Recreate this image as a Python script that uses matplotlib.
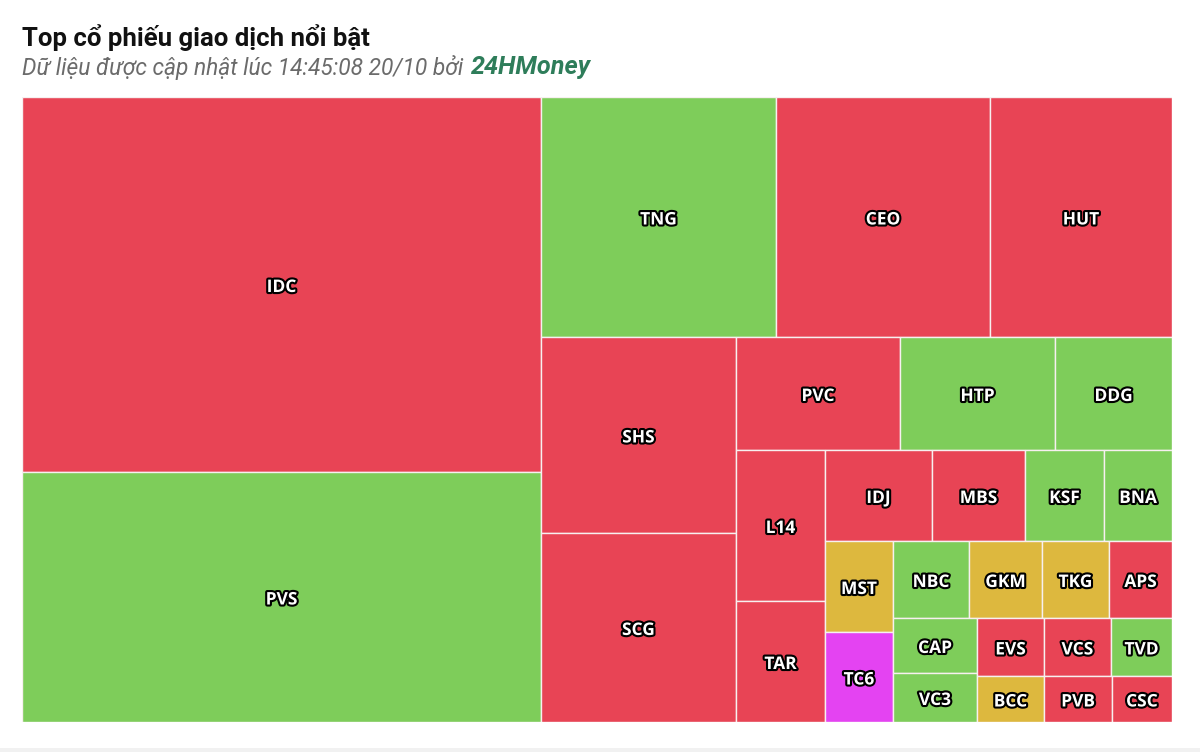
import matplotlib
matplotlib.use("Agg")
import matplotlib.pyplot as plt
from matplotlib.patches import Rectangle
import matplotlib.patheffects as pe
from matplotlib.transforms import offset_copy

# ---- data (estimated relative traded value, in layout order) ----
tickers = ["IDC", "PVS", "TNG", "CEO", "HUT", "SHS", "SCG", "PVC", "HTP", "DDG",
           "L14", "TAR", "IDJ", "MBS", "KSF", "BNA", "MST", "TC6", "NBC", "GKM",
           "TKG", "APS", "CAP", "VC3", "EVS", "VCS", "TVD", "BCC", "PVB", "CSC"]
values = [19463, 12975, 5640, 5136, 4368, 3822, 3686, 1853, 1752, 1322,
          1344, 1077, 974, 846, 719, 619, 619, 612, 585, 562,
          516, 485, 462, 412, 389, 389, 354, 308, 313, 276]
status = ["down", "up", "up", "down", "down", "down", "down", "down", "up", "up",
          "down", "down", "down", "down", "up", "up", "ref", "ceil", "up", "ref",
          "ref", "down", "up", "up", "down", "down", "up", "ref", "down", "down"]

title = "Top cổ phiếu giao dịch nổi bật"
subtitle = "Dữ liệu được cập nhật lúc 14:45:08 20/10 bởi "
brand = "24HMoney"

colors = {"down": "#E84455", "up": "#7ECD5A", "ref": "#DDB83E", "ceil": "#E443F2"}


def squarified(vals, x0, y0, W, H):
    """Port of the Highcharts 'squarified' (alternating low aspect ratio) layout."""
    tot = float(sum(vals))
    rects = []
    g = dict(height=H, width=W, direction=0, total=0.0, nW=0.0, lW=0.0,
             nH=0.0, lH=0.0, el=[], lR=float("nan"), nR=float("nan"))
    plot = dict(x=x0, y=y0)
    nan = float("nan")

    def ar(w, h):
        return max(w / h, h / w)

    def add(el):
        prev = g["el"][-1] if g["el"] else None
        g["total"] += el
        if g["direction"] == 0:
            g["lW"] = g["nW"]
            g["nW"] = g["total"] / g["height"]
            if prev is None:
                g["lR"] = g["nR"] = nan
            else:
                g["lR"] = ar(g["lW"], prev / g["lW"])
                g["nR"] = ar(g["nW"], prev / g["nW"])
        else:
            g["lH"] = g["nH"]
            g["nH"] = g["total"] / g["width"]
            if prev is None:
                g["lR"] = g["nR"] = nan
            else:
                g["lR"] = ar(prev / g["lH"], g["lH"])
                g["nR"] = ar(prev / g["nH"], g["nH"])
        g["el"].append(el)

    def calc(last):
        gW, gH = g["lW"], g["lH"]
        if last:
            gW, gH = g["nW"], g["nH"]
        els = g["el"]
        end = len(els) - 1
        keep = None if last else els[end]
        for i, p in enumerate(els):
            if last or i < end:
                if g["direction"] == 0:
                    pw = gW
                    ph = p / pw
                else:
                    ph = gH
                    pw = p / ph
                rects.append((plot["x"], plot["y"], pw, ph))
                if g["direction"] == 0:
                    plot["y"] += ph
                else:
                    plot["x"] += pw
        g["nW"] = 0.0
        g["lW"] = 0.0
        g["el"] = []
        g["total"] = 0.0
        if g["direction"] == 0:
            g["width"] -= gW
        else:
            g["height"] -= gH
        plot["y"] = y0 + (H - g["height"])
        plot["x"] = x0 + (W - g["width"])
        g["direction"] = 1 - g["direction"]
        if not last:
            add(keep)

    n = len(vals)
    for i, v in enumerate(vals):
        add(W * H * v / tot)
        if g["nR"] > g["lR"]:
            calc(False)
        if i == n - 1:
            calc(True)
    return rects


FW, FH = 1200, 752
fig = plt.figure(figsize=(FW / 100, FH / 100), dpi=100)
fig.patch.set_facecolor("white")

# plot area in pixels
px0, py0, pw_, ph_ = 22, 97, 1150, 625
ax = fig.add_axes([px0 / FW, 1 - (py0 + ph_) / FH, pw_ / FW, ph_ / FH])
ax.set_xlim(0, pw_)
ax.set_ylim(ph_, 0)
ax.axis("off")

label_tr = offset_copy(ax.transData, fig=fig, x=0, y=-2.5, units="dots")
rects = squarified(values, 0, 0, pw_, ph_)
for (x, y, w, h), t, s in zip(rects, tickers, status):
    ax.add_patch(Rectangle((x, y), w, h, facecolor=colors[s], edgecolor="#F7F0F0",
                           linewidth=1.0))
    txt = ax.text(x + w / 2, y + h / 2, t, ha="center", va="center",
                  fontsize=12.5, fontweight="bold", color="white",
                  family=["Open Sans", "DejaVu Sans"], transform=label_tr)
    txt.set_path_effects([pe.withStroke(linewidth=3.0, foreground="black")])

# titles
fig.text(22 / FW, 1 - 38 / FH, title, ha="left", va="center", fontsize=18.5,
         fontweight="bold", color="#111111", family=["Roboto", "DejaVu Sans"])
st = fig.text(22 / FW, 1 - 68 / FH, subtitle, ha="left", va="center", fontsize=16.4,
              fontstyle="italic", color="#6b6b6b", family=["Roboto", "DejaVu Sans"])
fig.canvas.draw()
bb = st.get_window_extent(renderer=fig.canvas.get_renderer())
fig.text(bb.x1 / FW + 2 / FW, 1 - 67 / FH, brand, ha="left", va="center", fontsize=18.2,
         fontstyle="italic", fontweight="bold", color="#2E7D5A",
         family=["Roboto", "DejaVu Sans"])

# faint page separator at the bottom
fig.add_artist(Rectangle((0, 0), 1, 4 / FH, transform=fig.transFigure,
                         facecolor="#F1F1F1", edgecolor="none"))

fig.savefig("out.png", dpi=100, facecolor="white")
